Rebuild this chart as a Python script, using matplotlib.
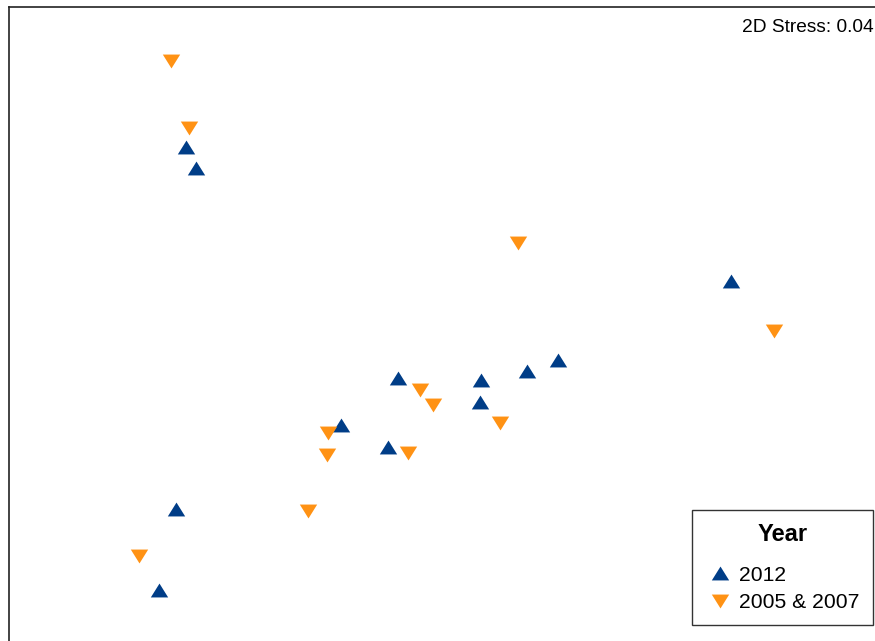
import matplotlib
matplotlib.use("Agg")
import matplotlib.pyplot as plt
import numpy as np

plt.rcParams['font.family'] = ['Liberation Sans', 'DejaVu Sans']

# NMDS ordination scores per sample
mds1_2012 = [-0.994, -0.960, 0.873, 0.280, 0.174, -0.268, 0.016, 0.013, -0.463, -0.302, -1.028, -1.086]
mds2_2012 = [0.621, 0.549, 0.163, -0.108, -0.145, -0.169, -0.176, -0.251, -0.330, -0.405, -0.618, -0.895]

mds1_0507 = [-1.045, -0.984, 0.143, 1.020, -0.192, -0.148, 0.082, -0.508, -0.511, -0.234, -0.576, -1.155]
mds2_0507 = [0.915, 0.686, 0.293, -0.009, -0.210, -0.262, -0.323, -0.358, -0.433, -0.426, -0.624, -0.778]

stress = 0.04
groups = ['2012', '2005 & 2007']
colors = ['#003d87', '#ff9214']

# flattened triangles (wider than tall)
tri_up = [(-1, -0.8), (1, -0.8), (0, 0.8), (-1, -0.8)]
tri_dn = [(-1, 0.8), (1, 0.8), (0, -0.8), (-1, 0.8)]

fig = plt.figure(figsize=(8.75, 6.41), dpi=100)
W, H = 875, 641
ax = fig.add_axes([9 / W, 1 - 650 / H, 876 / W, 643 / H])

ax.plot(mds1_2012, mds2_2012, linestyle='none', marker=tri_up, markersize=12.5,
        color=colors[0], markeredgewidth=0, label=groups[0])
ax.plot(mds1_0507, mds2_0507, linestyle='none', marker=tri_dn, markersize=12.5,
        color=colors[1], markeredgewidth=0, label=groups[1])

ax.set_xlim(-1.6, 1.4)
ax.set_ylim(-1.1, 1.1)
ax.set_xticks([])
ax.set_yticks([])
for side in ['top', 'left', 'right', 'bottom']:
    ax.spines[side].set_color('#222222')
    ax.spines[side].set_linewidth(1.2)

fig.text(874 / W, 1 - 27 / H, f'2D Stress: {stress:.2f}', ha='right', va='center',
         fontsize=13.8, color='black')

leg = ax.legend(loc='upper right', bbox_to_anchor=(873 / W, 1 - 510 / H),
                bbox_transform=fig.transFigure, borderaxespad=0,
                title='Year', fontsize=15.2, title_fontproperties={'weight': 'bold', 'size': 17},
                frameon=True, fancybox=False, framealpha=1, edgecolor='#333333',
                handlelength=1.45, handletextpad=0.18, labelspacing=0.4,
                borderpad=0.62, markerscale=1.0)
leg.get_frame().set_linewidth(1.0)
# extra room between the title and the entries
leg._legend_box.sep = 14

fig.savefig('out.png', dpi=100)
